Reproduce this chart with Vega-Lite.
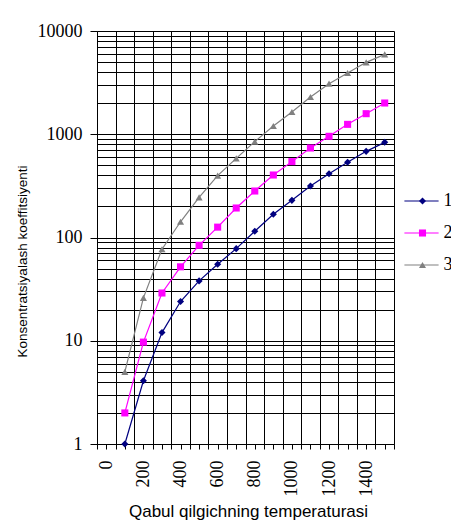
{
  "$schema": "https://vega.github.io/schema/vega-lite/v6.json",
  "autosize": "none",
  "width": 297,
  "height": 413,
  "padding": {"left": 97, "top": 31, "right": 57, "bottom": 79},
  "background": "white",
  "config": {"view": {"stroke": null}},
  "data": {"values": [
    {"T": 100, "series": "1", "v": 1},
    {"T": 200, "series": "1", "v": 4.1},
    {"T": 300, "series": "1", "v": 12},
    {"T": 400, "series": "1", "v": 24},
    {"T": 500, "series": "1", "v": 38},
    {"T": 600, "series": "1", "v": 55},
    {"T": 700, "series": "1", "v": 78},
    {"T": 800, "series": "1", "v": 115},
    {"T": 900, "series": "1", "v": 168},
    {"T": 1000, "series": "1", "v": 229},
    {"T": 1100, "series": "1", "v": 315},
    {"T": 1200, "series": "1", "v": 415},
    {"T": 1300, "series": "1", "v": 535},
    {"T": 1400, "series": "1", "v": 683},
    {"T": 1500, "series": "1", "v": 835},
    {"T": 100, "series": "2", "v": 2.0},
    {"T": 200, "series": "2", "v": 9.7},
    {"T": 300, "series": "2", "v": 29},
    {"T": 400, "series": "2", "v": 52},
    {"T": 500, "series": "2", "v": 84},
    {"T": 600, "series": "2", "v": 126},
    {"T": 700, "series": "2", "v": 193},
    {"T": 800, "series": "2", "v": 282},
    {"T": 900, "series": "2", "v": 403},
    {"T": 1000, "series": "2", "v": 543},
    {"T": 1100, "series": "2", "v": 736},
    {"T": 1200, "series": "2", "v": 955},
    {"T": 1300, "series": "2", "v": 1247},
    {"T": 1400, "series": "2", "v": 1582},
    {"T": 1500, "series": "2", "v": 2007},
    {"T": 100, "series": "3", "v": 5.0},
    {"T": 200, "series": "3", "v": 26},
    {"T": 300, "series": "3", "v": 77},
    {"T": 400, "series": "3", "v": 142},
    {"T": 500, "series": "3", "v": 245},
    {"T": 600, "series": "3", "v": 397},
    {"T": 700, "series": "3", "v": 584},
    {"T": 800, "series": "3", "v": 848},
    {"T": 900, "series": "3", "v": 1202},
    {"T": 1000, "series": "3", "v": 1643},
    {"T": 1100, "series": "3", "v": 2295},
    {"T": 1200, "series": "3", "v": 3090},
    {"T": 1300, "series": "3", "v": 3920},
    {"T": 1400, "series": "3", "v": 4972},
    {"T": 1500, "series": "3", "v": 5943}
  ]},
  "encoding": {
    "x": {
      "field": "T", "type": "quantitative",
      "scale": {"domain": [-50, 1550], "nice": false, "zero": false},
      "axis": {
        "values": [-50,0,50,100,150,200,250,300,350,400,450,500,550,600,650,700,750,800,850,900,950,1000,1050,1100,1150,1200,1250,1300,1350,1400,1450,1500,1550],
        "grid": true,
        "gridColor": "black",
        "gridWidth": 1,
        "gridOpacity": {"condition": {"test": "(datum.value + 50) % 100 == 0", "value": 1}, "value": 0},
        "domainColor": "black",
        "tickColor": "black",
        "tickSize": 5,
        "labelExpr": "(datum.value % 200 == 0 && datum.value >= 0 && datum.value <= 1400) ? datum.label : ''",
        "format": "d",
        "labelAngle": -90,
        "labelFont": "Liberation Serif",
        "labelFontSize": 18,
        "labelColor": "black",
        "labelPadding": 11,
        "labelOverlap": false,
        "labelFlush": false,
        "labelBound": false,
        "title": "Qabul qilgichning temperaturasi",
        "titleFont": "Liberation Sans",
        "titleFontSize": 17,
        "titleFontWeight": "normal",
        "titleColor": "black",
        "titleX": 151,
        "titleY": 67,
        "titleAlign": "center",
        "titleBaseline": "middle"
      }
    },
    "y": {
      "field": "v", "type": "quantitative",
      "scale": {"type": "log", "domain": [1, 10000], "nice": false},
      "axis": {
        "values": [1,2,3,4,5,6,7,8,9,10,20,30,40,50,60,70,80,90,100,200,300,400,500,600,700,800,900,1000,2000,3000,4000,5000,6000,7000,8000,9000,10000],
        "grid": true,
        "gridColor": "black",
        "gridWidth": 1,
        "domainColor": "black",
        "tickColor": "black",
        "tickSize": 7,
        "tickOpacity": {"condition": {"test": "indexof([1,10,100,1000,10000], datum.value) >= 0", "value": 1}, "value": 0},
        "labelExpr": "indexof([1,10,100,1000,10000], datum.value) >= 0 ? datum.label : ''",
        "format": "d",
        "labelFont": "Liberation Serif",
        "labelFontSize": 18,
        "labelColor": "black",
        "labelPadding": 8,
        "labelOverlap": false,
        "labelBound": false,
        "title": "Konsentratsiyalash koeffitsiyenti",
        "titleFont": "Liberation Sans",
        "titleFontSize": 13.5,
        "titleFontWeight": "normal",
        "titleColor": "black",
        "titleX": -75,
        "titleY": 230,
        "titleAngle": -90,
        "titleAlign": "center",
        "titleBaseline": "middle"
      }
    }
  },
  "layer": [
    {
      "mark": {"type": "line", "strokeWidth": 1.2},
      "encoding": {
        "stroke": {
          "field": "series", "type": "nominal",
          "scale": {"domain": ["1", "2", "3"], "range": ["#000080", "#FF00FF", "#808080"]},
          "legend": {
            "title": null,
            "orient": "none",
            "legendX": 315.5,
            "legendY": 161,
            "symbolType": "M-3.8,0H3.8",
            "symbolSize": 81,
            "symbolStrokeWidth": 1.2,
            "labelFont": "Liberation Serif",
            "labelFontSize": 18,
            "labelColor": "black",
            "labelOpacity": 0,
            "labelOffset": 11.5,
            "rowPadding": 14
          }
        }
      }
    },
    {
      "mark": {"type": "point", "filled": true, "opacity": 1, "size": 50, "strokeWidth": 0.5},
      "encoding": {
        "color": {
          "field": "series", "type": "nominal",
          "scale": {"range": ["#000080", "#FF00FF", "#808080"]},
          "legend": {
            "title": null,
            "orient": "none",
            "legendX": 316.5,
            "legendY": 161,
            "symbolSize": 50,
            "labelFont": "Liberation Serif",
            "labelFontSize": 18,
            "labelColor": "black",
            "labelOffset": 12,
            "rowPadding": 14
          }
        },
        "shape": {
          "field": "series", "type": "nominal",
          "scale": {"range": ["diamond", "square", "triangle-up"]},
          "legend": {
            "title": null,
            "orient": "none",
            "legendX": 316.5,
            "legendY": 161,
            "symbolSize": 50,
            "labelFont": "Liberation Serif",
            "labelFontSize": 18,
            "labelColor": "black",
            "labelOffset": 12,
            "rowPadding": 14
          }
        }
      }
    }
  ]
}
